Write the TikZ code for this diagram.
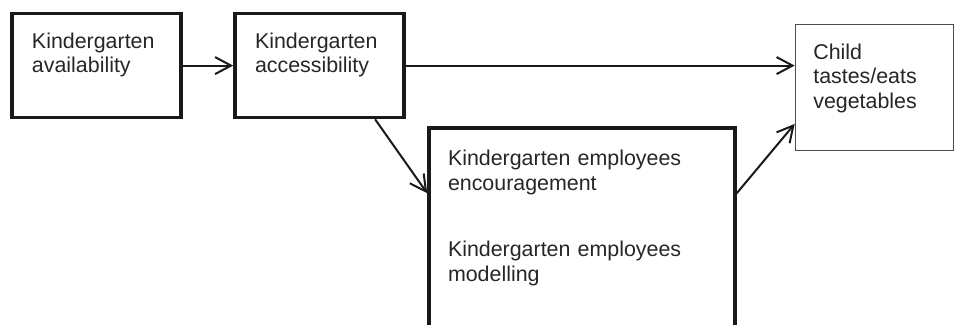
\documentclass[tikz,border=0pt]{standalone}
\usepackage{fontspec}
\setmainfont{Liberation Sans}
\usetikzlibrary{arrows.meta,calc}
\begin{document}
\begin{tikzpicture}[x=0.5pt,y=-0.5pt,
    every node/.style={font=\fontsize{10.7}{12.2}\selectfont, text=black!85, align=left, anchor=north west},
    thickbox/.style={draw=black!90, line width=1.8pt, inner xsep=10pt, inner ysep=0pt,
      text width=64.5pt, text height=17.3pt, text depth=34.6pt},
    link/.style={-{Straight Barb[length=8pt,width=8.5pt]}, line width=1pt, draw=black!90}]
  \useasboundingbox (0,0) rectangle (955,325);
  \clip (0,0) rectangle (955,325);
  % boxes
  \node[thickbox] (avail) at (10.2,11.9) {Kindergarten\\availability};
  \node[thickbox] (acc) at (233.2,11.9) {Kindergarten\\accessibility};
  \node[draw=black!70, line width=0.6pt, inner xsep=9pt, inner ysep=0pt,
    text width=61.25pt, text height=17.5pt, text depth=45.5pt]
    (child) at (794.7,23.7) {Child\\tastes/eats\\vegetables};
  \node[draw=black!90, line width=1.8pt, inner xsep=9.5pt, inner ysep=0pt,
    text width=134pt, text height=19pt, text depth=97pt]
    (staff) at (427.2,126.2) {Kindergarten employees\\encouragement\\[21pt]Kindergarten employees\\modelling};
  % arrows
  \draw[link] (avail) -- (acc);
  \draw[link] (acc.east) -- (acc.east -| child.west);
  \draw[link] (acc.-44) -- ($(staff.north west)+(0,67)$);
  \draw[link] ($(staff.north east)+(0,67)$) -- ($(child.south west)+(0,-27)$);
\end{tikzpicture}
\end{document}
